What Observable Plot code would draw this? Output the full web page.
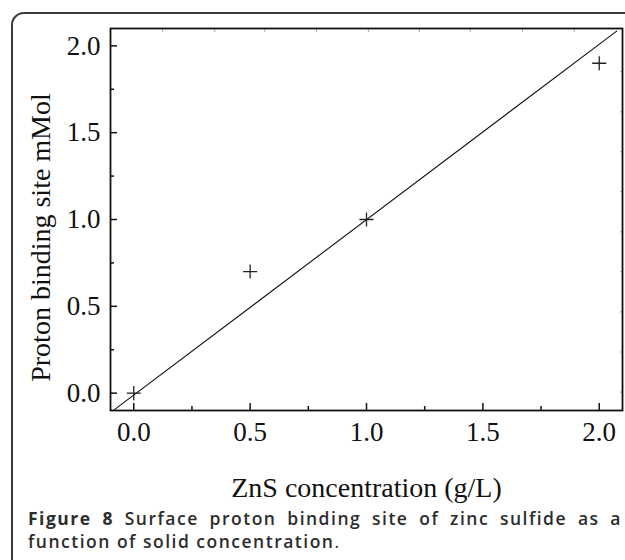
<!DOCTYPE html>
<html><head><meta charset="utf-8">
<script src="https://cdn.jsdelivr.net/npm/d3@7"></script>
<script src="https://cdn.jsdelivr.net/npm/@observablehq/plot@0.6"></script>
<style>
body{margin:0;background:#fff;}
#wrap{position:relative;width:625px;height:560px;overflow:hidden;background:#fff;}
#box{position:absolute;left:11px;top:12px;width:700px;height:700px;border:2px solid #3a3a3a;border-radius:13px;}
#chart{position:absolute;left:0;top:0;}
#cap{position:absolute;left:28px;top:507px;width:594px;font-family:"Open Sans",sans-serif;font-size:17.5px;letter-spacing:1.5px;font-weight:600;color:#2d2d2d;line-height:23px;}
#cap b{font-weight:700;}
.l1{text-align:justify;text-align-last:justify;white-space:nowrap;}
.dot{font-weight:400;}
</style></head><body>
<div id="wrap"><div id="box"></div><div id="chart"></div><div id="cap"></div></div>
<script>
// data
const concentration = [0, 0.5, 1.0, 2.0];
const bindingSites = [0, 0.7, 1.0, 1.9];
const fitX = [-0.086, 2.075];
const fitY = [-0.098, 2.085];
const majorTicks = [0, 0.5, 1.0, 1.5, 2.0];
const minorTicks = [0.25, 0.75, 1.25, 1.75];
const topTicks = [0.124, 0.348, 0.563, 0.785, 1.008, 1.227, 1.446, 1.67, 1.893];
const rightTicks = [0.006, 0.237, 0.468, 0.699, 0.929, 1.16, 1.39, 1.62, 1.851];
const xLabel = "ZnS concentration (g/L)";
const yLabel = "Proton binding site mMol";
const captionLead = "Figure 8";
const captionLine1 = "Surface proton binding site of zinc sulfide as a";
const captionLine2 = "function of solid concentration";

const points = concentration.map((x, i) => ({x, y: bindingSites[i]}));
const fit = fitX.map((x, i) => ({x, y: fitY[i]}));
const serif = "'Liberation Serif', 'Times New Roman', serif";

const chart = Plot.plot({
  width: 625, height: 510,
  marginLeft: 110, marginRight: 3, marginTop: 28, marginBottom: 100,
  style: {fontFamily: serif, fontSize: "27px", color: "#111", background: "transparent"},
  x: {domain: [-0.1, 2.1]},
  y: {domain: [-0.1, 2.1]},
  marks: [
    Plot.axisX({ticks: majorTicks, tickSize: 0, tickPadding: 11, tickFormat: d => d.toFixed(1), label: null, fill: "#111"}),
    Plot.axisX({ticks: majorTicks, tickSize: -7, fill: "none", label: null, stroke: "#111", strokeWidth: 1.5}),
    Plot.axisX({ticks: minorTicks, tickSize: -4, fill: "none", label: null, stroke: "#111", strokeWidth: 1.5}),
    Plot.axisY({ticks: majorTicks, tickSize: 0, tickPadding: 10, tickFormat: d => d.toFixed(1), label: null, fill: "#111"}),
    Plot.axisY({ticks: majorTicks, tickSize: -7, fill: "none", label: null, stroke: "#111", strokeWidth: 1.5}),
    Plot.axisY({ticks: minorTicks, tickSize: -4, fill: "none", label: null, stroke: "#111", strokeWidth: 1.5}),
    Plot.axisX({ticks: topTicks, anchor: "top", tickSize: -3, fill: "none", label: null, stroke: "#aaa", strokeWidth: 1}),
    Plot.axisY({ticks: rightTicks, anchor: "right", tickSize: -3, fill: "none", label: null, stroke: "#aaa", strokeWidth: 1}),
    Plot.frame({stroke: "#111", strokeWidth: 1.8}),
    Plot.line(fit, {x: "x", y: "y", stroke: "#111", strokeWidth: 1.1}),
    Plot.dot(points, {x: "x", y: "y", symbol: "plus", r: 4.6, stroke: "#222", strokeWidth: 1.3}),
    Plot.text([xLabel], {text: d => d, frameAnchor: "bottom", textAnchor: "middle", dy: 86, fontSize: 28, fill: "#111"}),
    Plot.text([yLabel], {text: d => d, frameAnchor: "left", textAnchor: "middle", dx: -69, dy: 18, rotate: -90, fontSize: 28, fill: "#111"})
  ]
});
document.getElementById("chart").append(chart);

const cap = document.getElementById("cap");
const l1 = document.createElement("div");
l1.className = "l1";
const b = document.createElement("b");
b.textContent = captionLead;
l1.append(b, " " + captionLine1);
const l2 = document.createElement("div");
const dot = document.createElement("span");
dot.className = "dot";
dot.textContent = ".";
l2.append(captionLine2, dot);
cap.append(l1, l2);
</script>
</body></html>
